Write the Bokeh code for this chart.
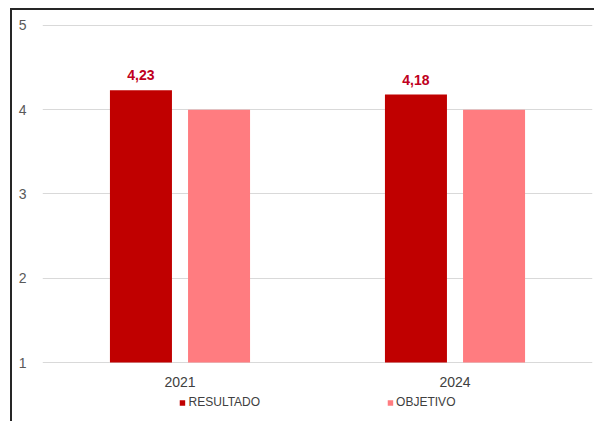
from bokeh.plotting import figure
from bokeh.models import ColumnDataSource, FactorRange, Range1d, FixedTicker, Legend, LegendItem, LabelSet
from bokeh.core.properties import value
from bokeh.transform import dodge
from bokeh.embed import file_html
from bokeh.resources import INLINE

years = ["2021", "2024"]
resultado = [4.23, 4.18]
objetivo = [4.0, 4.0]
y_ticks = [1, 2, 3, 4, 5]
series_names = ["RESULTADO", "OBJETIVO"]

FONT = "Liberation Sans"
C_RES = "#C00000"
C_OBJ = "#FF7C80"

src = ColumnDataSource(dict(
    year=years,
    res=resultado,
    obj=objetivo,
    base=[1] * len(years),
    lab=[f"{v:.2f}".replace(".", ",") for v in resultado],
))

p = figure(
    width=584, height=413,
    x_range=FactorRange(*years, range_padding=0),
    y_range=Range1d(0.2760, 5.178),
    x_axis_location=None,
    output_backend="svg", toolbar_location=None,
    min_border_left=30, min_border_right=4, min_border_top=0, min_border_bottom=0,
)
p.styles = {"margin-left": "10px", "margin-top": "8px",
            "border-top": "2px solid #262626", "border-left": "2px solid #262626"}
p.outline_line_color = None
p.background_fill_color = "white"
p.border_fill_color = "white"

r1 = p.vbar(x=dodge("year", -0.142, range=p.x_range), top="res", bottom="base",
            width=0.2255, source=src, fill_color=C_RES, line_color=None)
r2 = p.vbar(x=dodge("year", 0.142, range=p.x_range), top="obj", bottom="base",
            width=0.2255, source=src, fill_color=C_OBJ, line_color=None)

labels = LabelSet(x=dodge("year", -0.142, range=p.x_range), y="res", text="lab", source=src,
                  text_align="center", text_baseline="alphabetic", y_offset=10,
                  text_font=value(FONT), text_font_size="14px", text_font_style="bold",
                  text_color="#C00020")
p.add_layout(labels)

year_labels = LabelSet(x="year", y="base", text="year", source=src,
                       text_align="center", text_baseline="top", y_offset=-14,
                       text_font=value(FONT), text_font_size="14px",
                       text_color="#404040")
p.add_layout(year_labels)

p.yaxis.ticker = FixedTicker(ticks=y_ticks)
p.yaxis.axis_line_color = None
p.yaxis.major_tick_line_color = None
p.yaxis.major_tick_out = 0
p.yaxis.major_tick_in = 0
p.yaxis.minor_tick_line_color = None
p.yaxis.major_label_standoff = 16
p.yaxis.major_label_text_font = FONT
p.yaxis.major_label_text_font_size = "14px"
p.yaxis.major_label_text_color = "#595959"

p.xgrid.grid_line_color = None
p.ygrid.grid_line_color = "#D9D9D9"
p.ygrid.grid_line_width = 1

legend = Legend(
    items=[LegendItem(label=series_names[0], renderers=[r1]),
           LegendItem(label=series_names[1], renderers=[r2])],
    orientation="horizontal", location="bottom_center",
    spacing=126, padding=0, margin=14,
    glyph_width=7, glyph_height=7, label_standoff=3, label_height=14,
    label_text_font=FONT, label_text_font_size="12px", label_text_color="#404040",
    border_line_color=None, background_fill_alpha=0,
)
p.add_layout(legend)

open("out.html", "w").write(file_html(p, INLINE))
